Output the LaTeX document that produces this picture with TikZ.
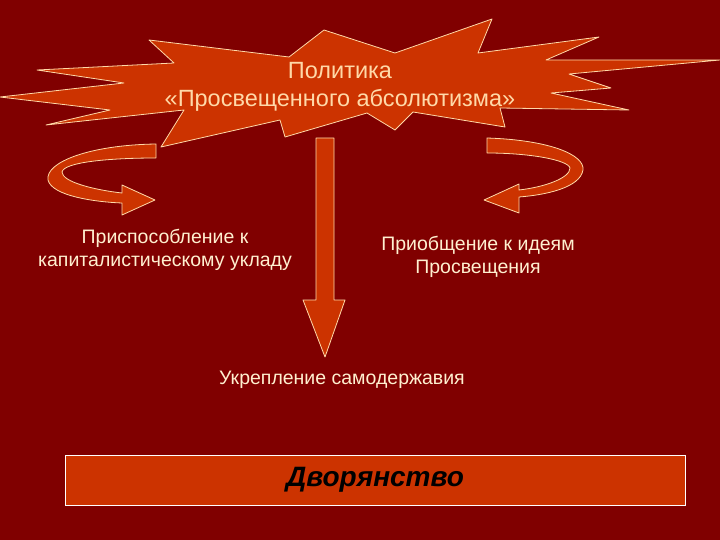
\documentclass[tikz,border=0pt]{standalone}
\usepackage{fontspec}
\setmainfont{Liberation Sans}
\definecolor{bg}{HTML}{800000}
\definecolor{shp}{HTML}{CC3300}
\definecolor{edge}{HTML}{FFD9A8}
\definecolor{txt}{HTML}{FFF0D0}
\begin{document}
\begin{tikzpicture}[x=1pt,y=-1pt,
  fshape/.style={fill=shp,draw=edge,line width=0.8pt,line join=round},
  lbl/.style={text=txt,font=\fontsize{19.5}{23}\selectfont,align=center}]
\fill[bg] (0,0) rectangle (720,540);
\useasboundingbox (0,0) rectangle (720,540);
\draw[fshape] (0,97)--(124,83)--(37,70)--(174,63)--(149,40)--(289,57)--(324,30)--(395,53)--(492,19)--(478,53)--(599,37)--(546,60)--(720,60)--(569,74)--(611,88)--(551,93)--(629,110)--(500,108)--(505,127)--(413,112)--(395,130)--(367,113)--(285,137)--(280,120)--(161,147)--(184,110)--(46,125)--(110,110)--cycle;
\node[lbl,text=edge,font=\fontsize{23.5}{28}\selectfont] (t) at (340,87) {Политика\\«Просвещенного абсолютизма»};
% left circular arrow
\draw[fshape] (156,144) .. controls (90,145) and (45,162) .. (48,180) .. controls (52,196) and (95,202) .. (122,203) -- (122,215) -- (155,200) -- (122,185) -- (122,193) .. controls (95,190) and (62,182) .. (62,172) .. controls (64,162) and (110,158) .. (156,158) -- cycle;
% right circular arrow
\draw[fshape] (487,138) .. controls (550,140) and (585,155) .. (583,170) .. controls (580,188) and (545,195) .. (519,197) -- (519,213) -- (484,200) -- (519,184) -- (519,190) .. controls (545,187) and (570,178) .. (570,168) .. controls (568,160) and (530,153) .. (487,153) -- cycle;
% down arrow
\draw[fshape] (316,138) -- (334,138) -- (334,300) -- (345,300) -- (325,357) -- (303,300) -- (316,300) -- cycle;
\node[lbl] (a) at (165,250) {Приспособление к\\капиталистическому укладу};
\node[lbl] (b) at (478,257) {Приобщение к идеям\\Просвещения};
\node[lbl] (c) at (342,380) {Укрепление самодержавия};
\node[draw=white,fill=shp,line width=1pt,minimum width=620pt,minimum height=50pt,inner sep=0pt,
  font=\fontsize{28}{32}\selectfont\bfseries\itshape] (d) at (375,480) {Дворянство};
\end{tikzpicture}
\end{document}
